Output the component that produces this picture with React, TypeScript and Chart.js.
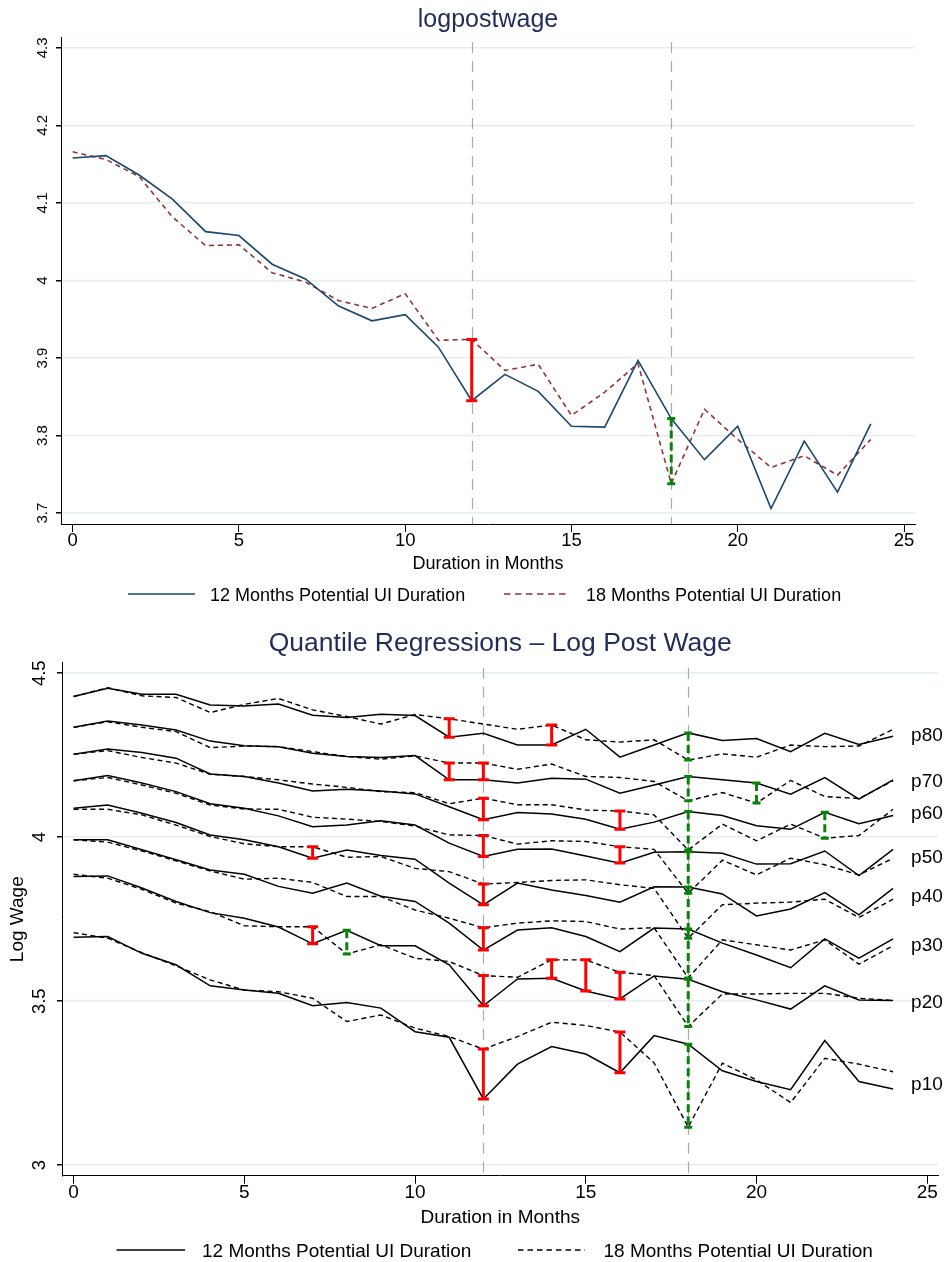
import React, { useEffect, useRef } from 'react';
import { Chart, registerables } from 'chart.js';

Chart.register(...registerables);

const FONT = "'Liberation Sans', Arial, Helvetica, sans-serif";

// ---------- shared ----------
const months = [0, 1, 2, 3, 4, 5, 6, 7, 8, 9, 10, 11, 12, 13, 14, 15, 16, 17, 18, 19, 20, 21, 22, 23, 24];
const xTickValues = [0, 5, 10, 15, 20, 25];
const referenceMonths = [12, 18];
const legendLabels = ['12 Months Potential UI Duration', '18 Months Potential UI Duration'];
const xAxisTitle = 'Duration in Months';

// ---------- top chart: logpostwage ----------
const topTitle = 'logpostwage';
const topUI12 = [4.158, 4.161, 4.136, 4.105, 4.063, 4.058, 4.021, 4.002, 3.967, 3.948, 3.956, 3.914, 3.845, 3.879, 3.857, 3.812, 3.811, 3.897, 3.822, 3.769, 3.812, 3.706, 3.793, 3.727, 3.815];
const topUI18 = [4.166, 4.156, 4.134, 4.082, 4.045, 4.046, 4.010, 3.998, 3.974, 3.964, 3.983, 3.923, 3.924, 3.884, 3.892, 3.826, 3.856, 3.893, 3.738, 3.834, 3.795, 3.759, 3.774, 3.749, 3.795];
const topRedMonths = [12];
const topGreenMonths = [18];
const topYTickValues = [3.7, 3.8, 3.9, 4.0, 4.1, 4.2, 4.3];
const topYTickLabels = ['3.7', '3.8', '3.9', '4', '4.1', '4.2', '4.3'];

// ---------- bottom chart: quantile regressions ----------
const bottomTitle = 'Quantile Regressions \u2013 Log Post Wage';
const bottomYTitle = 'Log Wage';
const quantileNames = ['p80', 'p70', 'p60', 'p50', 'p40', 'p30', 'p20', 'p10'];
const p80UI12 = [4.429, 4.454, 4.436, 4.436, 4.403, 4.400, 4.406, 4.372, 4.365, 4.375, 4.371, 4.305, 4.317, 4.281, 4.281, 4.329, 4.244, 4.281, 4.318, 4.295, 4.301, 4.261, 4.317, 4.283, 4.308];
const p80UI18 = [4.429, 4.456, 4.431, 4.426, 4.380, 4.405, 4.423, 4.388, 4.368, 4.345, 4.374, 4.361, 4.345, 4.329, 4.342, 4.297, 4.290, 4.297, 4.235, 4.254, 4.244, 4.281, 4.276, 4.278, 4.329];
const p70UI12 = [4.335, 4.354, 4.342, 4.327, 4.293, 4.279, 4.276, 4.256, 4.246, 4.243, 4.249, 4.175, 4.175, 4.165, 4.180, 4.177, 4.134, 4.159, 4.185, 4.175, 4.165, 4.131, 4.182, 4.116, 4.175];
const p70UI18 = [4.335, 4.352, 4.335, 4.322, 4.273, 4.278, 4.276, 4.261, 4.246, 4.238, 4.248, 4.226, 4.226, 4.207, 4.223, 4.185, 4.182, 4.170, 4.111, 4.136, 4.104, 4.173, 4.124, 4.118, 4.172];
const p60UI12 = [4.253, 4.269, 4.258, 4.241, 4.193, 4.185, 4.165, 4.141, 4.146, 4.141, 4.132, 4.093, 4.053, 4.075, 4.071, 4.055, 4.024, 4.046, 4.078, 4.066, 4.035, 4.024, 4.076, 4.041, 4.066];
const p60UI18 = [4.253, 4.264, 4.243, 4.226, 4.192, 4.185, 4.175, 4.162, 4.152, 4.139, 4.136, 4.102, 4.119, 4.099, 4.099, 4.083, 4.080, 4.068, 3.961, 4.040, 3.989, 4.040, 3.997, 4.005, 4.085];
const p50UI12 = [4.172, 4.188, 4.165, 4.139, 4.102, 4.088, 4.065, 4.032, 4.037, 4.050, 4.037, 3.982, 3.941, 3.963, 3.964, 3.943, 3.921, 3.954, 3.956, 3.951, 3.918, 3.919, 3.958, 3.883, 3.963];
const p50UI18 = [4.172, 4.182, 4.159, 4.134, 4.098, 4.086, 4.085, 4.061, 4.055, 4.048, 4.034, 4.007, 4.005, 3.979, 3.989, 3.987, 3.971, 3.963, 3.829, 3.930, 3.885, 3.936, 3.916, 3.885, 3.936];
const p40UI12 = [4.088, 4.098, 4.073, 4.045, 4.007, 3.992, 3.971, 3.936, 3.961, 3.944, 3.933, 3.860, 3.794, 3.860, 3.839, 3.822, 3.802, 3.849, 3.848, 3.827, 3.760, 3.781, 3.831, 3.763, 3.844];
const p40UI18 = [4.085, 4.085, 4.068, 4.037, 4.002, 3.980, 3.971, 3.971, 3.939, 3.941, 3.905, 3.895, 3.857, 3.862, 3.868, 3.870, 3.855, 3.844, 3.692, 3.794, 3.799, 3.802, 3.811, 3.755, 3.811];
const p30UI12 = [3.992, 3.992, 3.962, 3.931, 3.900, 3.887, 3.850, 3.829, 3.860, 3.820, 3.804, 3.738, 3.656, 3.717, 3.724, 3.697, 3.651, 3.723, 3.720, 3.677, 3.641, 3.602, 3.690, 3.631, 3.690];
const p30UI18 = [3.992, 3.985, 3.958, 3.928, 3.897, 3.872, 3.875, 3.862, 3.819, 3.819, 3.778, 3.753, 3.724, 3.738, 3.745, 3.743, 3.720, 3.724, 3.571, 3.687, 3.672, 3.656, 3.687, 3.613, 3.669];
const p20UI12 = [3.880, 3.882, 3.845, 3.804, 3.770, 3.753, 3.726, 3.675, 3.716, 3.669, 3.669, 3.611, 3.486, 3.568, 3.570, 3.531, 3.507, 3.577, 3.567, 3.529, 3.504, 3.476, 3.547, 3.504, 3.502];
const p20UI18 = [3.887, 3.875, 3.841, 3.799, 3.773, 3.730, 3.727, 3.727, 3.644, 3.672, 3.631, 3.621, 3.578, 3.573, 3.626, 3.626, 3.588, 3.578, 3.423, 3.522, 3.522, 3.524, 3.524, 3.509, 3.502];
const p10UI12 = [3.695, 3.697, 3.646, 3.611, 3.547, 3.534, 3.524, 3.486, 3.496, 3.479, 3.407, 3.390, 3.202, 3.308, 3.362, 3.339, 3.282, 3.395, 3.369, 3.288, 3.255, 3.230, 3.380, 3.255, 3.232];
const p10UI18 = [3.709, 3.692, 3.648, 3.608, 3.565, 3.534, 3.529, 3.509, 3.438, 3.458, 3.418, 3.392, 3.354, 3.392, 3.436, 3.426, 3.406, 3.312, 3.116, 3.311, 3.260, 3.191, 3.326, 3.308, 3.285];
const quantileUI12 = [p80UI12, p70UI12, p60UI12, p50UI12, p40UI12, p30UI12, p20UI12, p10UI12];
const quantileUI18 = [p80UI18, p70UI18, p60UI18, p50UI18, p40UI18, p30UI18, p20UI18, p10UI18];
const quantileLabelValues = [4.314, 4.173, 4.076, 3.942, 3.823, 3.675, 3.499, 3.250];
const quantileRedMonths = [[11, 14], [11, 12], [12, 16], [12, 16], [7, 12], [12], [7, 12, 14, 15, 16], [12, 16]];
const quantileGreenMonths = [[18], [18, 20], [18, 22], [18], [18], [18], [8, 18], [18]];
const bottomYTickValues = [3, 3.5, 4, 4.5];
const bottomYTickLabels = ['3', '3.5', '4', '4.5'];

type Bar = { x: number; a: number; b: number; red: boolean };

const buildBars = (s12: number[], s18: number[], red: number[], green: number[]): Bar[] => [
  ...red.map((m) => ({ x: m, a: s12[months.indexOf(m)], b: s18[months.indexOf(m)], red: true })),
  ...green.map((m) => ({ x: m, a: s12[months.indexOf(m)], b: s18[months.indexOf(m)], red: false })),
];

const seriesData = (vals: number[]) => months.map((m, i) => ({ x: m, y: vals[i] }));

function createChart(canvas: HTMLCanvasElement, spec: any) {
  const decor = {
    id: 'decor',
    beforeDatasetsDraw(chart: any) {
      const { ctx, chartArea, scales } = chart;
      ctx.save();
      ctx.strokeStyle = '#a9a9a9';
      ctx.lineWidth = 1.2;
      ctx.setLineDash([11, 8]);
      for (const m of referenceMonths) {
        const px = Math.round(scales.x.getPixelForValue(m)) + 0.5;
        ctx.beginPath();
        ctx.moveTo(px, chartArea.top + 5);
        ctx.lineTo(px, chartArea.bottom);
        ctx.stroke();
      }
      ctx.restore();
    },
    afterDatasetsDraw(chart: any) {
      const { ctx, scales } = chart;
      ctx.save();
      for (const bar of spec.bars as Bar[]) {
        const px = scales.x.getPixelForValue(bar.x);
        const pa = scales.y.getPixelForValue(bar.a);
        const pb = scales.y.getPixelForValue(bar.b);
        ctx.strokeStyle = bar.red ? '#ff0000' : '#0a820a';
        ctx.lineWidth = 3;
        ctx.lineCap = 'butt';
        ctx.setLineDash(bar.red ? [] : [8, 4]);
        ctx.beginPath();
        ctx.moveTo(px, pa);
        ctx.lineTo(px, pb);
        ctx.stroke();
        ctx.setLineDash([]);
        const hw = bar.red ? 5.5 : 4;
        ctx.beginPath();
        ctx.moveTo(px - hw, pa);
        ctx.lineTo(px + hw, pa);
        ctx.moveTo(px - hw, pb);
        ctx.lineTo(px + hw, pb);
        ctx.stroke();
      }
      ctx.restore();
    },
    afterDraw(chart: any) {
      const { ctx, chartArea, scales } = chart;
      const cx = (chartArea.left + chartArea.right) / 2;
      ctx.save();
      // title
      ctx.fillStyle = '#1f2d59';
      ctx.font = `${spec.titleSize}px ${FONT}`;
      ctx.textAlign = 'center';
      ctx.textBaseline = 'alphabetic';
      ctx.fillText(spec.title, cx, spec.titleBaseline);
      // y tick labels (rotated)
      ctx.fillStyle = '#000';
      ctx.font = `${spec.yTickSize}px ${FONT}`;
      spec.yTickValues.forEach((v: number, i: number) => {
        const py = scales.y.getPixelForValue(v);
        ctx.save();
        ctx.translate(spec.yLabelX, py);
        ctx.rotate(-Math.PI / 2);
        ctx.textAlign = 'center';
        ctx.textBaseline = 'alphabetic';
        ctx.fillText(spec.yTickLabels[i], 0, 0);
        ctx.restore();
      });
      // y axis title
      if (spec.yTitle) {
        ctx.save();
        ctx.font = `${spec.axisTitleSize}px ${FONT}`;
        ctx.translate(spec.yTitleX, (chartArea.top + chartArea.bottom) / 2);
        ctx.rotate(-Math.PI / 2);
        ctx.textAlign = 'center';
        ctx.textBaseline = 'middle';
        ctx.fillText(spec.yTitle, 0, 0);
        ctx.restore();
      }
      // x axis title
      ctx.font = `${spec.axisTitleSize}px ${FONT}`;
      ctx.textAlign = 'center';
      ctx.textBaseline = 'alphabetic';
      ctx.fillText(xAxisTitle, cx, spec.xTitleBaseline);
      // quantile labels
      if (spec.pLabels) {
        ctx.font = `${spec.axisTitleSize}px ${FONT}`;
        ctx.textAlign = 'left';
        const lx = scales.x.getPixelForValue(24) + 18;
        spec.pLabels.forEach((pl: any) => {
          ctx.fillText(pl.text, lx, scales.y.getPixelForValue(pl.value) + 0.358 * spec.axisTitleSize);
        });
      }
      // legend
      ctx.font = `${spec.legendSize}px ${FONT}`;
      ctx.textAlign = 'left';
      spec.legendItems.forEach((it: any) => {
        ctx.save();
        ctx.strokeStyle = it.color;
        ctx.lineWidth = 1.6;
        ctx.setLineDash(it.dash);
        ctx.beginPath();
        ctx.moveTo(it.x1, spec.legendLineY);
        ctx.lineTo(it.x2, spec.legendLineY);
        ctx.stroke();
        ctx.restore();
        ctx.fillText(it.text, it.tx, spec.legendTextBaseline);
      });
      ctx.restore();
    },
  };

  return new Chart(canvas, {
    type: 'line',
    data: { datasets: spec.datasets },
    options: {
      responsive: false,
      animation: false,
      devicePixelRatio: 1,
      events: [],
      layout: {
        autoPadding: false,
        padding: { top: spec.area.top, right: spec.width - spec.area.right, left: 0, bottom: 0 },
      },
      plugins: { legend: { display: false }, title: { display: false }, tooltip: { enabled: false } },
      elements: { point: { radius: 0 }, line: { tension: 0 } },
      scales: {
        x: {
          type: 'linear',
          min: spec.xMin,
          max: spec.xMax,
          afterBuildTicks: (s: any) => {
            s.ticks = xTickValues.map((v) => ({ value: v }));
          },
          afterFit: (s: any) => {
            s.height = spec.height - spec.area.bottom;
          },
          grid: { drawOnChartArea: false, drawTicks: true, tickLength: 8, tickColor: '#000', lineWidth: 1 },
          border: { display: true, color: '#000', width: 1 },
          ticks: {
            color: '#000',
            font: { family: FONT, size: spec.xTickSize, lineHeight: 1 },
            padding: 0,
            maxRotation: 0,
            minRotation: 0,
            autoSkip: false,
            callback: (v: any) => String(v),
          },
        },
        y: {
          type: 'linear',
          min: spec.yMin,
          max: spec.yMax,
          afterBuildTicks: (s: any) => {
            s.ticks = spec.yTickValues.map((v: number) => ({ value: v }));
          },
          afterFit: (s: any) => {
            s.width = spec.area.left;
          },
          grid: { color: '#e6eef1', lineWidth: 1.5, drawTicks: true, tickLength: 5, tickColor: '#000' },
          border: { display: true, color: '#000', width: 1 },
          ticks: { display: false },
        },
      },
    },
    plugins: [decor],
  } as any);
}

const W = 946;

const ChartCanvas = ({ spec, top }: { spec: any; top: number }) => {
  const ref = useRef<HTMLCanvasElement | null>(null);
  useEffect(() => {
    if (!ref.current) return;
    const chart = createChart(ref.current, spec);
    return () => chart.destroy();
  }, []);
  return (
    <canvas
      ref={ref}
      width={spec.width}
      height={spec.height}
      style={{ position: 'absolute', left: 0, top, width: spec.width, height: spec.height, display: 'block' }}
    />
  );
};

export default function App() {
  const topSpec = {
    width: W,
    height: 612,
    area: { left: 61, right: 915, top: 37, bottom: 524 },
    xMin: -0.35,
    xMax: 25.33,
    yMin: 3.686,
    yMax: 4.314,
    yTickValues: topYTickValues,
    yTickLabels: topYTickLabels,
    yTickSize: 15,
    yLabelX: 46.7,
    xTickSize: 18.5,
    title: topTitle,
    titleSize: 25,
    titleBaseline: 26.7,
    axisTitleSize: 18,
    xTitleBaseline: 569,
    legendSize: 18,
    legendLineY: 594,
    legendTextBaseline: 600.5,
    legendItems: [
      { x1: 128, x2: 195, tx: 210, color: '#1a476f', dash: [], text: legendLabels[0] },
      { x1: 504, x2: 568, tx: 586, color: '#90353b', dash: [6.5, 4.5], text: legendLabels[1] },
    ],
    bars: buildBars(topUI12, topUI18, topRedMonths, topGreenMonths),
    datasets: [
      { label: legendLabels[0], data: seriesData(topUI12), borderColor: '#1a476f', borderWidth: 1.6, pointRadius: 0, fill: false },
      { label: legendLabels[1], data: seriesData(topUI18), borderColor: '#90353b', borderWidth: 1.6, borderDash: [5, 4], pointRadius: 0, fill: false },
    ],
  };

  const bottomDatasets: any[] = [];
  const bottomBars: Bar[] = [];
  quantileNames.forEach((q, i) => {
    bottomDatasets.push({ label: `${q} 12`, data: seriesData(quantileUI12[i]), borderColor: '#000', borderWidth: 1.5, pointRadius: 0, fill: false });
    bottomDatasets.push({ label: `${q} 18`, data: seriesData(quantileUI18[i]), borderColor: '#000', borderWidth: 1.4, borderDash: [5, 3.5], pointRadius: 0, fill: false });
    bottomBars.push(...buildBars(quantileUI12[i], quantileUI18[i], quantileRedMonths[i], quantileGreenMonths[i]));
  });

  const bottomSpec = {
    width: W,
    height: 650,
    area: { left: 62, right: 938.5, top: 50.7, bottom: 563.7 },
    xMin: -0.34,
    xMax: 25.33,
    yMin: 2.968,
    yMax: 4.532,
    yTickValues: bottomYTickValues,
    yTickLabels: bottomYTickLabels,
    yTickSize: 18.5,
    yLabelX: 45,
    yTitle: bottomYTitle,
    yTitleX: 18,
    xTickSize: 19,
    title: bottomTitle,
    titleSize: 26.5,
    titleBaseline: 38.7,
    axisTitleSize: 19,
    xTitleBaseline: 610.9,
    legendSize: 19,
    legendLineY: 638,
    legendTextBaseline: 644.5,
    legendItems: [
      { x1: 116.5, x2: 185, tx: 202, color: '#000', dash: [], text: legendLabels[0] },
      { x1: 518, x2: 585, tx: 603.5, color: '#000', dash: [5.5, 4], text: legendLabels[1] },
    ],
    pLabels: quantileNames.map((q, i) => ({ text: q, value: quantileLabelValues[i] })),
    bars: bottomBars,
    datasets: bottomDatasets,
  };

  return (
    <div style={{ position: 'fixed', left: 0, top: 0, width: W, height: 1262, background: '#fff', overflow: 'hidden' }}>
      <ChartCanvas spec={topSpec} top={0} />
      <ChartCanvas spec={bottomSpec} top={612} />
    </div>
  );
}
